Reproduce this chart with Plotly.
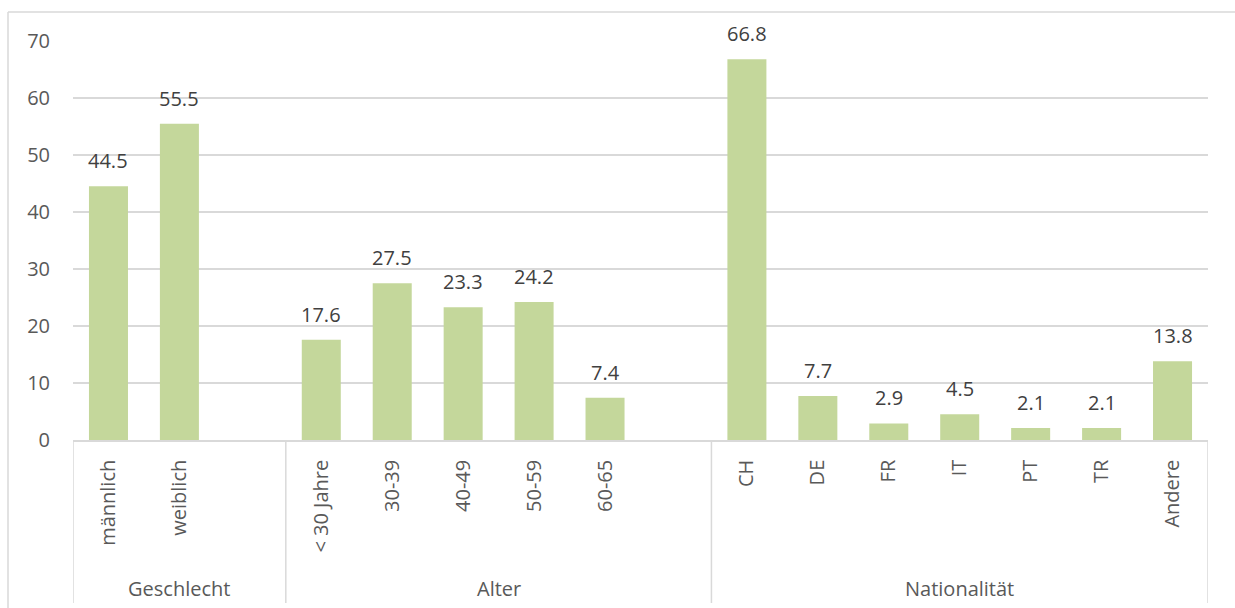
import plotly.graph_objects as go

# Survey composition (percent), grouped by characteristic
groups = ["Geschlecht", "Alter", "Nationalität"]
group_categories = [
    ["männlich", "weiblich"],
    ["< 30 Jahre", "30-39", "40-49", "50-59", "60-65"],
    ["CH", "DE", "FR", "IT", "PT", "TR", "Andere"],
]
group_values = [
    [44.5, 55.5],
    [17.6, 27.5, 23.3, 24.2, 7.4],
    [66.8, 7.7, 2.9, 4.5, 2.1, 2.1, 13.8],
]
y_ticks = [0, 10, 20, 30, 40, 50, 60, 70]

BAR_COLOR = "#C4D79B"
GRID_COLOR = "#D9D9D9"
TEXT_COLOR = "#595959"
LABEL_COLOR = "#404040"
FONT = "Open Sans"

W, H = 1235, 608
ML, MR, MT, MB = 73, 27, 41, 168
plot_w = W - ML - MR
plot_h = H - MT - MB

# Lay out slots: each group is followed by an empty slot except the last
xs, labels, values, bounds, centers = [], [], [], [-0.5], []
pos = 0
for gi, (cats, vals) in enumerate(zip(group_categories, group_values)):
    start = pos
    for c, v in zip(cats, vals):
        xs.append(pos)
        labels.append(c)
        values.append(v)
        pos += 1
    if gi < len(groups) - 1:
        pos += 1  # spacer slot
    bounds.append(pos - 0.5)
    centers.append((start - 0.5 + pos - 0.5) / 2)
x_range = [-0.5, pos - 0.5]

fig = go.Figure(
    go.Bar(
        x=xs,
        y=values,
        width=0.55,
        marker=dict(color=BAR_COLOR, line=dict(width=0)),
        hoverinfo="skip",
    )
)

annotations = []
# Value labels above bars
for x, v in zip(xs, values):
    annotations.append(dict(
        x=x, y=v, xref="x", yref="y", text=f"{v:.1f}",
        showarrow=False, yanchor="bottom", yshift=10,
        font=dict(family=FONT, size=20, color=LABEL_COLOR),
    ))
# Group labels below the category labels
for g, c in zip(groups, centers):
    annotations.append(dict(
        x=c, y=0, xref="x", yref="paper", text=g,
        showarrow=False, yanchor="middle", yshift=-148,
        font=dict(family=FONT, size=20, color=TEXT_COLOR),
    ))

shapes = []
sep_bottom = -(603 - (H - MB)) / plot_h
for b in bounds:
    shapes.append(dict(
        type="line", xref="x", yref="paper", x0=b, x1=b, y0=0, y1=sep_bottom,
        line=dict(color=GRID_COLOR, width=1.5),
    ))
# Chart frame (left and top edges)
fx = (8 - ML) / plot_w
fy = (H - MB - 12) / plot_h
shapes.append(dict(type="line", xref="paper", yref="paper",
                   x0=fx, x1=fx, y0=-1, y1=fy,
                   line=dict(color=GRID_COLOR, width=1.5)))
shapes.append(dict(type="line", xref="paper", yref="paper",
                   x0=fx, x1=1.1, y0=fy, y1=fy,
                   line=dict(color=GRID_COLOR, width=1.5)))

fig.update_layout(
    width=W, height=H,
    margin=dict(l=ML, r=MR, t=MT, b=MB),
    paper_bgcolor="white", plot_bgcolor="white",
    showlegend=False,
    font=dict(family=FONT, size=20, color=TEXT_COLOR),
    annotations=annotations,
    shapes=shapes,
    xaxis=dict(
        range=x_range,
        tickmode="array", tickvals=xs, ticktext=labels,
        tickangle=-90,
        ticks="outside", ticklen=10, tickcolor="rgba(0,0,0,0)",
        showgrid=False, zeroline=False,
        showline=True, linecolor=GRID_COLOR, linewidth=1.5,
        tickfont=dict(family=FONT, size=20, color=TEXT_COLOR),
        fixedrange=True,
    ),
    yaxis=dict(
        range=[0, 70],
        tickmode="array", tickvals=y_ticks,
        showgrid=True, gridcolor=GRID_COLOR, gridwidth=1.5,
        zeroline=False, showline=False,
        ticks="outside", ticklen=18, tickcolor="rgba(0,0,0,0)",
        tickfont=dict(family=FONT, size=20, color=TEXT_COLOR),
        fixedrange=True,
    ),
)

fig.write_html("out.html", config={"displayModeBar": False})
